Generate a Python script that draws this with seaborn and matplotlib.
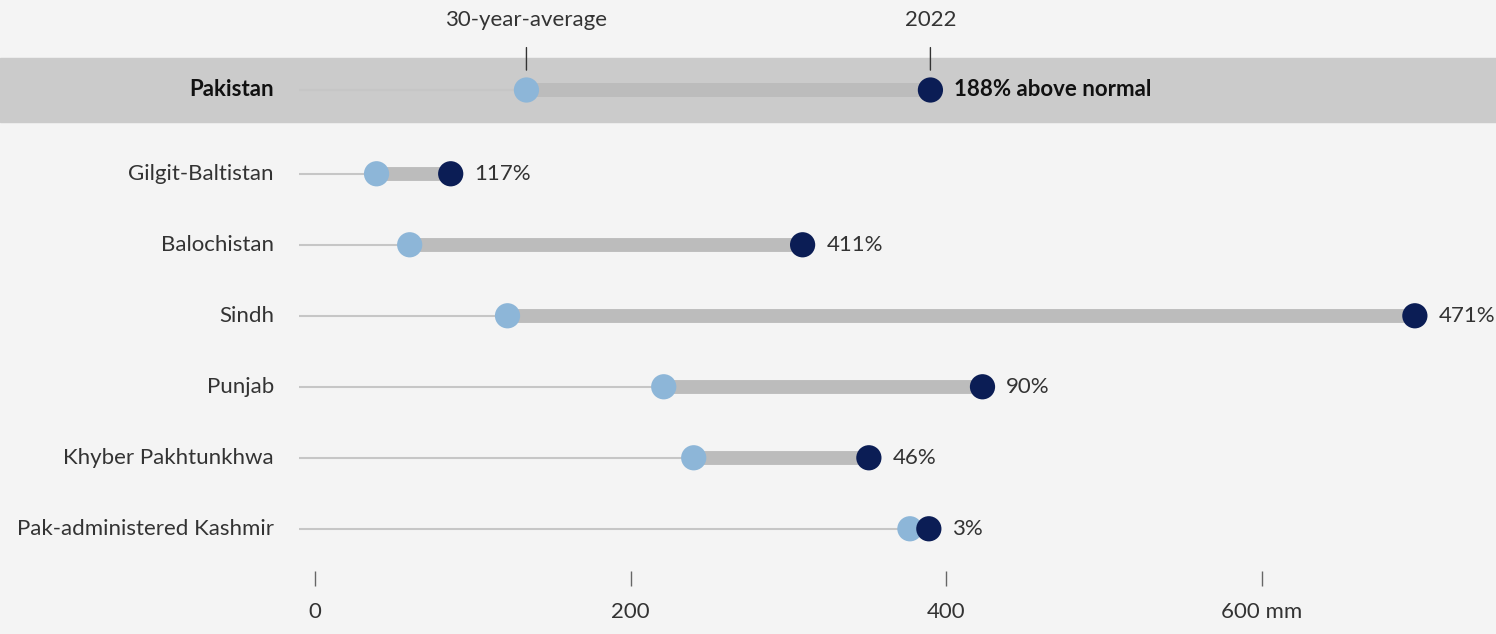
import matplotlib
matplotlib.use("Agg")
import matplotlib.pyplot as plt
import seaborn as sns
import pandas as pd

# values (mm of rainfall)
regions = ["Pakistan", "Gilgit-Baltistan", "Balochistan", "Sindh", "Punjab",
           "Khyber Pakhtunkhwa", "Pak-administered Kashmir"]
avg_30yr = [134, 39, 60, 122, 221, 240, 377]
rain_2022 = [390, 86, 309, 697, 423, 351, 389]
pct_labels = ["188% above normal", "117%", "411%", "471%", "90%", "46%", "3%"]
x_ticks = [0, 200, 400, 600]
x_ticklabels = ["0", "200", "400", "600 mm"]

df = pd.DataFrame({"region": regions, "avg": avg_30yr, "y2022": rain_2022, "label": pct_labels})
# row positions: headline row, then a small gap, then the provinces
df["pos"] = [0] + [1.18 + i for i in range(len(regions) - 1)]

sns.set_theme(style="white")
plt.rcParams["font.family"] = ["Lato", "DejaVu Sans"]

bg = "#f4f4f4"
fs = 16
fig = plt.figure(figsize=(14.96, 6.34), dpi=100, facecolor=bg)
ax = fig.add_axes([0, 63 / 634, 1, 571 / 634])
ax.set_facecolor(bg)

px = 1.578  # pixels per mm
ax.set_xlim(-315 / px, (1496 - 315) / px)
ax.set_ylim((571 - 90) / 71, -90 / 71)

# headline band
ax.axhspan(-0.45, 0.45, color="#cbcbcb", zorder=0)

# thin baseline and thick range bar
ax.hlines(df["pos"], -10, df["y2022"], color="#c6c6c6", lw=1.5, zorder=1)
ax.hlines(df["pos"], df["avg"], df["y2022"], color="#bcbcbc", lw=10, zorder=2)

sns.scatterplot(data=df, x="avg", y="pos", color="#8db6d8", s=330, edgecolor="none",
                ax=ax, zorder=3, legend=False)
sns.scatterplot(data=df, x="y2022", y="pos", color="#0b1d55", s=330, edgecolor="none",
                ax=ax, zorder=4, legend=False)

for i, row in df.iterrows():
    bold = "bold" if i == 0 else "normal"
    ax.text(-26, row["pos"], row["region"], ha="right", va="center", fontsize=fs,
            color="#111111" if i == 0 else "#333333", fontweight=bold)
    ax.text(row["y2022"] + 15, row["pos"], row["label"], ha="left", va="center",
            fontsize=fs, color="#111111" if i == 0 else "#333333", fontweight=bold)

# annotations for the two markers
ax.annotate("30-year-average", xy=(df["avg"][0], -0.28), xytext=(df["avg"][0], -0.98),
            ha="center", va="center", fontsize=fs, color="#333333",
            arrowprops=dict(arrowstyle="-", color="#333333", lw=1, shrinkA=10, shrinkB=0))
ax.annotate("2022", xy=(df["y2022"][0], -0.28), xytext=(df["y2022"][0], -0.98),
            ha="center", va="center", fontsize=fs, color="#333333",
            arrowprops=dict(arrowstyle="-", color="#333333", lw=1, shrinkA=10, shrinkB=0))

ax.set_xticks(x_ticks)
ax.set_xticklabels(x_ticklabels)
ax.set_yticks([])
ax.tick_params(axis="x", bottom=True, length=11, width=1, color="#666666", pad=11,
               labelsize=fs, labelcolor="#333333")
for s in ax.spines.values():
    s.set_visible(False)
ax.set_xlabel("")
ax.set_ylabel("")

fig.savefig("out.png", dpi=100, facecolor=bg)
